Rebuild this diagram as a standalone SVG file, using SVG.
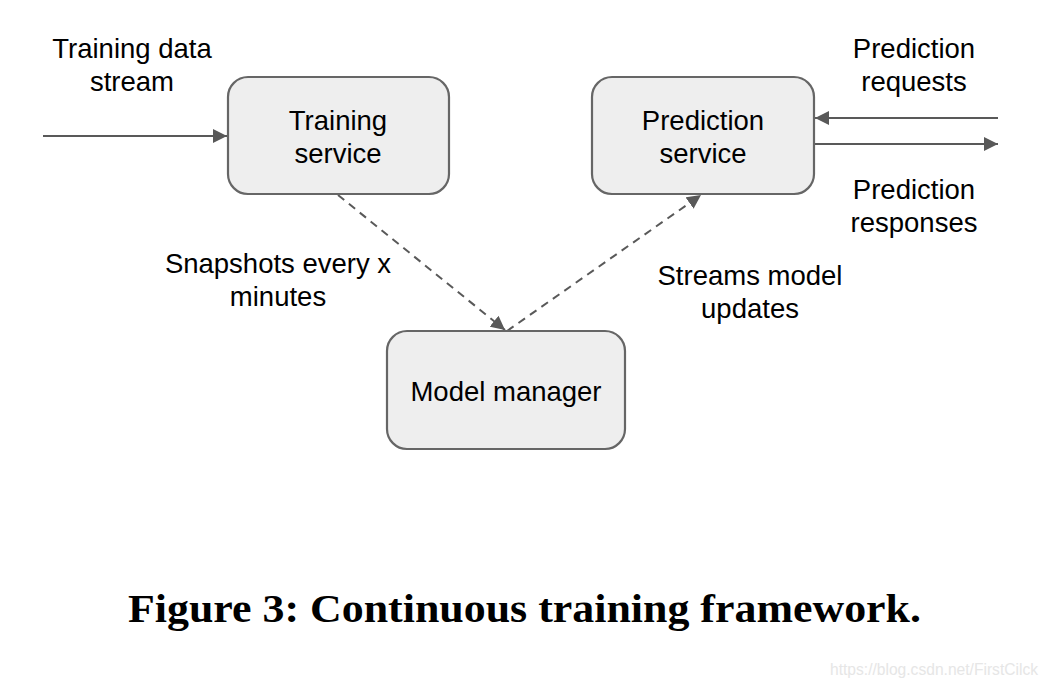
<svg xmlns="http://www.w3.org/2000/svg" width="1054" height="688" viewBox="0 0 1054 688">
<style>
.box{fill:#eeeeee;stroke:#666666;stroke-width:2.2}
.lbl{font-family:"Liberation Sans",Arial,sans-serif;font-size:27.5px;fill:#000;text-anchor:middle}
.line{stroke:#595959;stroke-width:2;fill:none}
.dash{stroke:#595959;stroke-width:2;fill:none;stroke-dasharray:8 6}
.cap{font-family:"Liberation Serif","Times New Roman",serif;font-weight:bold;font-size:40px;fill:#000}
.wm{font-family:"Liberation Sans",Arial,sans-serif;font-size:16px;fill:#e6e6e6}
</style>
<defs>
<marker id="arr" viewBox="0 0 10 10" refX="10" refY="5" markerWidth="14" markerHeight="14" markerUnits="userSpaceOnUse" orient="auto">
<path d="M0,0 L10,5 L0,10 z" fill="#595959"/>
</marker>
</defs>
<rect width="1054" height="688" fill="#ffffff"/>
<g id="connectors">
<line class="line" x1="43" y1="136" x2="227" y2="136" marker-end="url(#arr)"/>
<line class="line" x1="998" y1="118" x2="815" y2="118" marker-end="url(#arr)"/>
<line class="line" x1="815" y1="144" x2="998" y2="144" marker-end="url(#arr)"/>
<line class="dash" x1="338" y1="195" x2="505" y2="330" marker-end="url(#arr)"/>
<line class="dash" x1="507" y1="331" x2="701" y2="195" marker-end="url(#arr)"/>
</g>
<g id="training-service">
<rect class="box" x="228" y="77" width="221" height="117" rx="20"/>
<text class="lbl" x="338" y="130">Training</text>
<text class="lbl" x="338" y="163">service</text>
</g>
<g id="prediction-service">
<rect class="box" x="592" y="77" width="222" height="117" rx="20"/>
<text class="lbl" x="703" y="130">Prediction</text>
<text class="lbl" x="703" y="163">service</text>
</g>
<g id="model-manager">
<rect class="box" x="387" y="331" width="238" height="118" rx="20"/>
<text class="lbl" x="506" y="401">Model manager</text>
</g>
<g id="labels">
<text class="lbl" x="132" y="58">Training data</text>
<text class="lbl" x="132" y="91">stream</text>
<text class="lbl" x="914" y="58">Prediction</text>
<text class="lbl" x="914" y="91">requests</text>
<text class="lbl" x="914" y="199">Prediction</text>
<text class="lbl" x="914" y="232">responses</text>
<text class="lbl" x="278" y="273">Snapshots every x</text>
<text class="lbl" x="278" y="306">minutes</text>
<text class="lbl" x="750" y="285">Streams model</text>
<text class="lbl" x="750" y="318">updates</text>
</g>
<text class="cap" x="128" y="622" textLength="793" lengthAdjust="spacingAndGlyphs">Figure 3: Continuous training framework.</text>
<text class="wm" x="830" y="675" textLength="208" lengthAdjust="spacingAndGlyphs">https://blog.csdn.net/FirstCilck</text>
</svg>
